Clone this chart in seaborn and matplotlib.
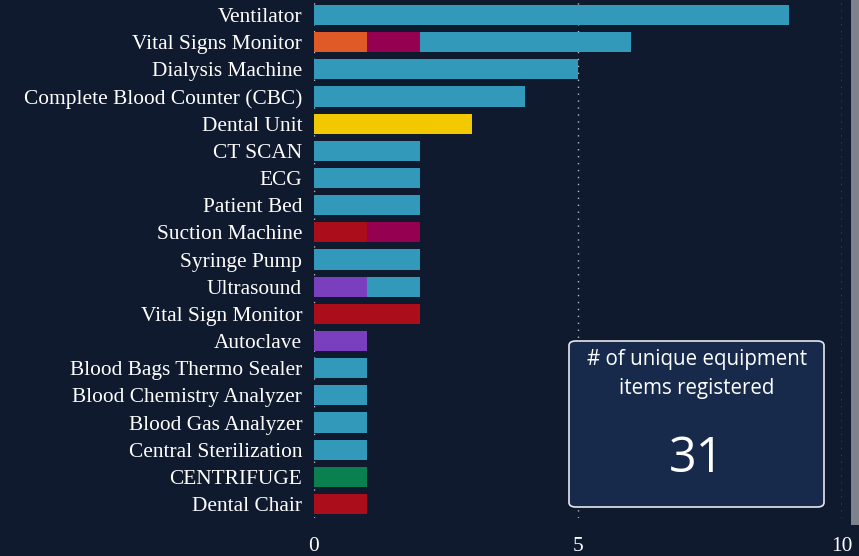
import matplotlib
matplotlib.use("Agg")
import matplotlib.pyplot as plt
from matplotlib.patches import FancyBboxPatch, Rectangle
import seaborn as sns
import pandas as pd
import numpy as np

equipment = ["Ventilator", "Vital Signs Monitor", "Dialysis Machine",
             "Complete Blood Counter (CBC)", "Dental Unit", "CT SCAN", "ECG",
             "Patient Bed", "Suction Machine", "Syringe Pump", "Ultrasound",
             "Vital Sign Monitor", "Autoclave", "Blood Bags Thermo Sealer",
             "Blood Chemistry Analyzer", "Blood Gas Analyzer",
             "Central Sterilization", "CENTRIFUGE", "Dental Chair"]

# segment values per series (stack order: first group, magenta, blue)
orange  = [0, 1, 0, 0, 0, 0, 0, 0, 0, 0, 0, 0, 0, 0, 0, 0, 0, 0, 0]
red     = [0, 0, 0, 0, 0, 0, 0, 0, 1, 0, 0, 2, 0, 0, 0, 0, 0, 0, 1]
purple  = [0, 0, 0, 0, 0, 0, 0, 0, 0, 0, 1, 0, 1, 0, 0, 0, 0, 0, 0]
green   = [0, 0, 0, 0, 0, 0, 0, 0, 0, 0, 0, 0, 0, 0, 0, 0, 0, 1, 0]
yellow  = [0, 0, 0, 0, 3, 0, 0, 0, 0, 0, 0, 0, 0, 0, 0, 0, 0, 0, 0]
magenta = [0, 1, 0, 0, 0, 0, 0, 0, 1, 0, 0, 0, 0, 0, 0, 0, 0, 0, 0]
blue    = [9, 4, 5, 4, 0, 2, 2, 2, 0, 2, 1, 0, 0, 1, 1, 1, 1, 0, 0]

x_ticks = [0, 5, 10]
card_title = "# of unique equipment\nitems registered"
card_value = "31"

colors = {"orange": "#e05a28", "red": "#ab0d1a", "purple": "#7a3fbf",
          "green": "#0a8050", "yellow": "#f2c800", "magenta": "#950050",
          "blue": "#3399bb"}

bg = "#0f1a2e"
sns.set_theme(style="dark")
plt.rcParams["font.family"] = ["Liberation Serif", "DejaVu Serif"]

df = pd.DataFrame({"equipment": equipment, "orange": orange, "red": red,
                   "purple": purple, "green": green, "yellow": yellow,
                   "magenta": magenta, "blue": blue})
first = df[["orange", "red", "purple", "green", "yellow"]].sum(axis=1)
df["end_first"] = first
df["end_magenta"] = first + df["magenta"]
df["end_blue"] = df["end_magenta"] + df["blue"]

fig = plt.figure(figsize=(8.59, 5.56), dpi=100, facecolor=bg)
ax = fig.add_axes([0.3655, 0.069, 0.6145, 0.9285])
ax.set_facecolor(bg)

# layered stacking: draw the outermost segment first
layers = [("blue", df["end_blue"].where(df["blue"] > 0, 0))]
layers.append(("magenta", df["end_magenta"].where(df["magenta"] > 0, 0)))
for s in ["orange", "red", "purple", "green", "yellow"]:
    layers.append((s, df[s]))
for name, vals in layers:
    d = pd.DataFrame({"equipment": equipment, "v": vals.values})
    sns.barplot(data=d, y="equipment", x="v", order=equipment,
                color=colors[name], saturation=1, width=0.74,
                linewidth=0, ax=ax, orient="h")

ax.set_xlim(0, 10)
ax.set_ylim(18.5, -0.5)
ax.set_xticks(x_ticks)
ax.set_xticklabels([str(t) for t in x_ticks])
ax.set_xlabel("")
ax.set_ylabel("")
for t in x_ticks:
    ax.axvline(t, color="#b8bcc4", linestyle=(0, (1, 4)), linewidth=1, zorder=0)
ax.grid(False)
for sp in ax.spines.values():
    sp.set_visible(False)
ax.tick_params(axis="y", colors="white", labelsize=15.4, length=0, pad=8.5)
ax.tick_params(axis="x", colors="white", labelsize=15.4, length=0, pad=14)
for lbl in ax.get_yticklabels() + ax.get_xticklabels():
    lbl.set_color("white")

# KPI card
card = FancyBboxPatch((569 / 859, 1 - 507 / 556), (824 - 569) / 859,
                      (507 - 341) / 556,
                      boxstyle="round,pad=0,rounding_size=0.008",
                      transform=fig.transFigure, facecolor="#172a4c",
                      edgecolor="#e6e8ec", linewidth=1.2, zorder=5)
fig.patches.append(card)
fig.text(697 / 859, 1 - 374 / 556, card_title, ha="center", va="center",
         color="white", fontsize=14.8, family=["Open Sans", "DejaVu Sans"],
         linespacing=1.45, zorder=6)
fig.text(697 / 859, 1 - 459 / 556, card_value, ha="center", va="center",
         color="white", fontsize=35, family=["Open Sans", "DejaVu Sans"],
         zorder=6)

# scrollbar strip at right edge
fig.patches.append(Rectangle((851 / 859, 1 - 525 / 556), 8 / 859, 525 / 556,
                             transform=fig.transFigure, facecolor="#7d838c",
                             edgecolor="none"))

fig.savefig("out.png", dpi=100, facecolor=bg)
